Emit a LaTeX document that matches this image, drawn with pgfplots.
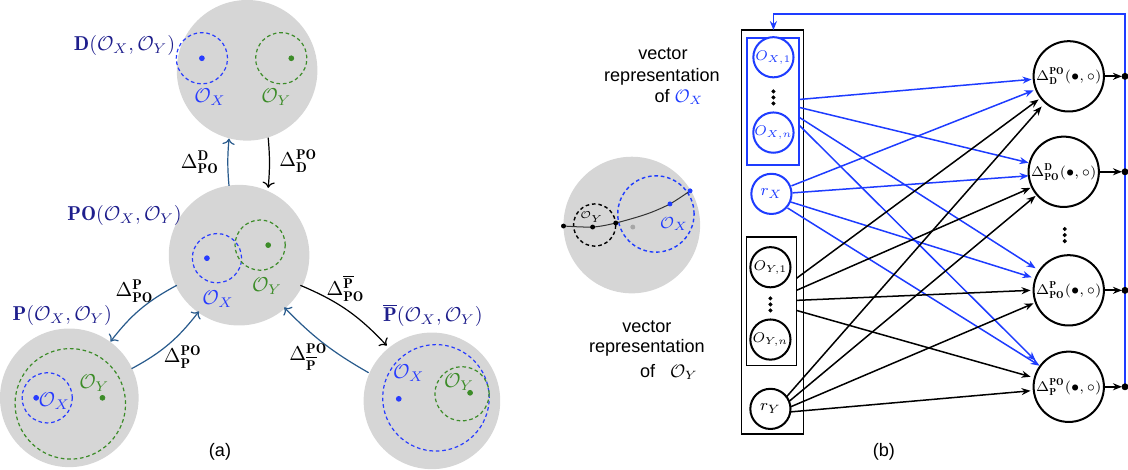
\documentclass[border=0pt]{standalone}
\usepackage{pgfplots}
\pgfplotsset{compat=1.18}
\usepackage{fontspec}
\newfontfamily\helv{Liberation Sans}
\usetikzlibrary{arrows.meta}
\definecolor{bg}{RGB}{214,214,214}
\definecolor{dblue}{RGB}{40,60,255}
\definecolor{dgreen}{RGB}{60,140,40}
\definecolor{navy}{RGB}{30,30,140}
\definecolor{steel}{RGB}{40,90,140}
\definecolor{nblue}{RGB}{30,60,255}
\begin{document}
\begin{tikzpicture}
\begin{axis}[hide axis, scale only axis, width=564pt, height=237pt,
  xmin=0, xmax=1128, ymin=0, ymax=474, y dir=reverse, clip=true]
% ---------- (a) ----------
\fill[bg] (252,73) circle[radius=35pt];
\fill[bg] (244,257) circle[radius=35pt];
\fill[bg] (75,399) circle[radius=34.5pt];
\fill[bg] (436,402) circle[radius=34pt];
\begin{scope}[line width=0.6pt, dash pattern=on 1.8pt off 1.4pt]
\draw[dblue] (207,61) circle[radius=12.75pt];
\draw[dgreen] (286,61) circle[radius=12.75pt];
\draw[dblue] (222,260) circle[radius=12.25pt];
\draw[dgreen] (265,247) circle[radius=12.5pt];
\draw[dgreen] (76,405) circle[radius=27.5pt];
\draw[dblue] (53,399) circle[radius=12.5pt];
\draw[dblue] (440,399) circle[radius=26.5pt];
\draw[dgreen] (466,395) circle[radius=13.5pt];
\end{scope}
\addplot[only marks, mark=*, mark size=1.2pt, dblue] coordinates {(207,61)(212,260)(42,399)(403,400)};
\addplot[only marks, mark=*, mark size=1.2pt, dgreen] coordinates {(296,61)(273,247)(108,399)(474,394)};
\node[dblue] at (215,100) {$\mathcal{O}_X$};
\node[dgreen] at (281,100) {$\mathcal{O}_Y$};
\node[dblue] at (223,301) {$\mathcal{O}_X$};
\node[dgreen] at (272,288) {$\mathcal{O}_Y$};
\node[dblue] at (60,402) {$\mathcal{O}_X$};
\node[dgreen] at (100,384) {$\mathcal{O}_Y$};
\node[dblue] at (413,374) {$\mathcal{O}_X$};
\node[dgreen] at (463,383) {$\mathcal{O}_Y$};
\node[navy] at (130,48) {$\mathbf{D}(\mathcal{O}_X,\mathcal{O}_Y)$};
\node[navy] at (130,217) {$\mathbf{PO}(\mathcal{O}_X,\mathcal{O}_Y)$};
\node[navy] at (68,317) {$\mathbf{P}(\mathcal{O}_X,\mathcal{O}_Y)$};
\node[navy] at (437,317) {$\overline{\mathbf{P}}(\mathcal{O}_X,\mathcal{O}_Y)$};
\draw[steel, line width=0.6pt, ->] (234,188) to[bend left=5] (234,141);
\draw[black, line width=0.6pt, ->] (273,140) to[bend left=5] (273,190);
\draw[steel, line width=0.6pt, ->] (182,287) to[bend right=12] (116,343);
\draw[steel, line width=0.6pt, ->] (137,370) to[bend right=12] (204,313);
\draw[black, line width=0.6pt, ->] (305,287) to[bend left=12] (391,347);
\draw[steel, line width=0.6pt, ->] (373,374) to[bend left=8] (289,309);
\node[inner sep=0pt] at (205,165) {$\Delta^{\mathbf{D}}_{\mathbf{PO}}$};
\node[inner sep=0pt] at (303,163) {$\Delta^{\mathbf{PO}}_{\mathbf{D}}$};
\node[inner sep=0pt] at (140,293) {$\Delta^{\mathbf{P}}_{\mathbf{PO}}$};
\node[inner sep=0pt] at (188,358) {$\Delta^{\mathbf{PO}}_{\mathbf{P}}$};
\node[inner sep=0pt] at (350,290) {$\Delta^{\overline{\mathbf{P}}}_{\mathbf{PO}}$};
\node[inner sep=0pt] at (313,358) {$\Delta^{\mathbf{PO}}_{\overline{\mathbf{P}}}$};
\node[font=\helv\fontsize{9}{10}\selectfont] at (225,453) {(a)};
% ---------- (b) ----------
\node[font=\helv\fontsize{9}{10}\selectfont] at (886,453) {(b)};
\fill[bg] (635,227) circle[radius=34pt];
\draw[black, line width=0.7pt, dash pattern=on 1.8pt off 1.4pt] (598,227) circle[radius=10.5pt];
\draw[nblue, line width=0.7pt, dash pattern=on 1.8pt off 1.4pt] (659,216) circle[radius=19pt];
\addplot[smooth, black!80, line width=0.5pt] coordinates {(567,228)(596,229)(619,225)(650,216)(673,206)(693,193)};
\addplot[only marks, mark=*, mark size=1pt, black] coordinates {(567,228)(596,229)(619,225)};
\addplot[only marks, mark=*, mark size=1pt, nblue] coordinates {(673,206)(693,193)};
\addplot[only marks, mark=*, mark size=1pt, gray!70] coordinates {(636,229)};
\node[font=\fontsize{5}{6}\selectfont, inner sep=0pt] at (595,219) {$\mathcal{O}_Y$};
\node[nblue, font=\footnotesize, inner sep=0pt] at (677,226) {$\mathcal{O}_X$};
\begin{scope}[font=\helv\fontsize{9}{10}\selectfont]
\node at (666,57) {vector};
\node at (665,79) {representation};
\node at (682,100) {of \textcolor{nblue}{$\mathcal{O}_X$}};
\node at (650,328) {vector};
\node at (650,349) {representation};
\node at (672,373) {of \ \ $\mathcal{O}_Y$};
\end{scope}
\draw[line width=0.7pt] (744,33) rectangle (806,435);
\draw[nblue, line width=1pt] (750,41) rectangle (801,167);
\draw[line width=0.8pt] (749,239) rectangle (799,367);
\begin{scope}[every node/.style={circle, line width=1pt, minimum size=20pt, inner sep=0pt, font=\fontsize{7.4}{9}\selectfont}]
\node[draw=nblue, text=nblue, fill=white] at (776,60) {$O_{X,1}$};
\node[draw=nblue, text=nblue, fill=white] at (776,135) {$O_{X,n}$};
\node[draw=nblue, text=nblue, fill=white, font=\footnotesize] at (774,196) {$r_X$};
\node[draw=black, fill=white] at (773,269) {$O_{Y,1}$};
\node[draw=black, fill=white] at (773,341) {$O_{Y,n}$};
\node[draw=black, fill=white, font=\footnotesize] at (773,410) {$r_Y$};
\end{scope}
\addplot[only marks, mark=*, mark size=0.8pt, black] coordinates {(776,94)(776,100)(776,106)(773,300)(773,306)(773,312)(1066,231)(1066,237)(1066,243)};
\begin{scope}[line width=0.75pt, -{Stealth[length=4.5pt,width=3.5pt]}]
\draw[nblue] (802,102) -- (1033,82);
\draw[nblue] (802,110) -- (1030,165);
\draw[nblue] (802,120) -- (1037,270);
\draw[nblue] (802,128) -- (1037,362);
\draw[nblue] (794,188) -- (1035,93);
\draw[nblue] (795,195) -- (1030,178);
\draw[nblue] (793,204) -- (1033,279);
\draw[nblue] (790,210) -- (1041,367);
\draw (799,280) -- (1040,102);
\draw (799,292) -- (1032,190);
\draw (799,302) -- (1032,292);
\draw (799,312) -- (1032,378);
\draw (789,398) -- (1043,109);
\draw (791,403) -- (1037,198);
\draw (793,408) -- (1035,305);
\draw (793,413) -- (1032,392);
\end{scope}
\begin{scope}[every node/.style={circle, draw, line width=1pt, minimum size=35pt, inner sep=0pt, font=\scriptsize, fill=white}]
\node at (1070,79) {$\Delta^{\mathbf{PO}}_{\mathbf{D}}(\bullet,\circ)$};
\node at (1065,174) {$\Delta^{\mathbf{D}}_{\mathbf{PO}}(\bullet,\circ)$};
\node at (1070,292) {$\Delta^{\mathbf{P}}_{\mathbf{PO}}(\bullet,\circ)$};
\node at (1070,388) {$\Delta^{\mathbf{PO}}_{\mathbf{P}}(\bullet,\circ)$};
\end{scope}
\draw[nblue, line width=0.8pt, -{Stealth[length=4.5pt,width=3.5pt]}] (1126,385) -- (1126,17) -- (776,17) -- (776,33);
\begin{scope}[line width=1pt, -{Stealth[length=4.5pt,width=3.5pt]}]
\draw (1105,79) -- (1123,79);
\draw (1100,174) -- (1123,174);
\draw (1104,292) -- (1123,292);
\draw (1104,388) -- (1123,388);
\end{scope}
\addplot[only marks, mark=*, mark size=1.5pt, black] coordinates {(1126,79)(1126,174)(1126,292)(1126,388)};
\end{axis}
\end{tikzpicture}
\end{document}
